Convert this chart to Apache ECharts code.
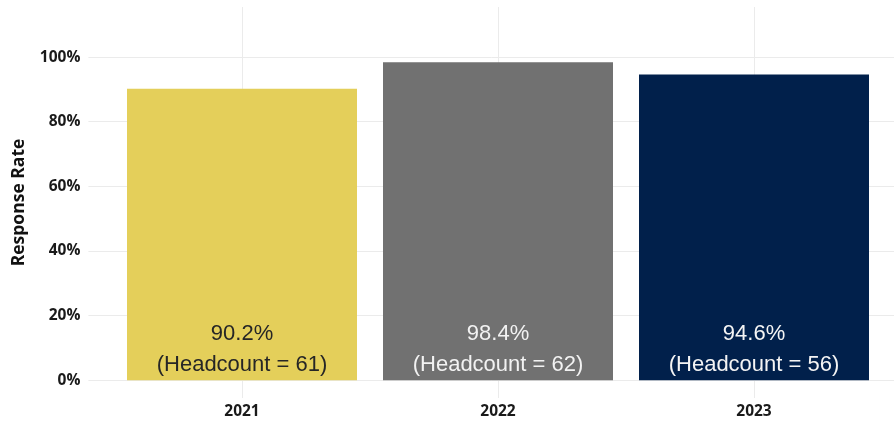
<!DOCTYPE html>
<html>
<head>
<meta charset="utf-8">
<script src="https://cdn.jsdelivr.net/npm/echarts@6/dist/echarts.min.js"></script>
<style>
  html, body { margin: 0; padding: 0; background: #ffffff; }
  #chart { width: 894px; height: 423px; }
</style>
</head>
<body>
<div id="chart"></div>
<script>
// Survey response rate by year
const years = ['2021', '2022', '2023'];
const responseRate = [90.2, 98.4, 94.6];
const headcount = [61, 62, 56];
const barColors = ['#E4CF5A', '#717171', '#01204B'];
const labelColors = ['#262626', '#f2f2f2', '#f4f4f4'];
const yTicks = [0, 20, 40, 60, 80, 100];

const chart = echarts.init(document.getElementById('chart'), null, { renderer: 'canvas' });

const axisFont = '"Open Sans", Lato, sans-serif';

chart.setOption({
  backgroundColor: '#ffffff',
  animation: false,
  grid: { left: 88.4, right: -13.6, top: 7, bottom: 25, outerBoundsMode: 'none', containLabel: false },
  xAxis: {
    type: 'value',
    min: -0.6,
    max: 2.6,
    axisLine: { show: false },
    axisTick: { show: false, customValues: years.map((_, i) => i) },
    axisLabel: {
      customValues: years.map((_, i) => i),
      formatter: v => years[Math.round(v)],
      color: '#1a1a1a',
      fontFamily: axisFont,
      fontWeight: 'bold',
      fontSize: 15.5,
      margin: 6
    },
    splitLine: { show: true, lineStyle: { color: '#ebebeb', width: 1 } }
  },
  yAxis: {
    type: 'value',
    min: -5.5,
    max: 115.5,
    name: 'Response Rate',
    nameLocation: 'middle',
    nameGap: 60,
    nameTextStyle: {
      color: '#111111',
      fontFamily: axisFont,
      fontWeight: 'bold',
      fontSize: 17.5
    },
    axisLine: { show: false },
    axisTick: { show: false, customValues: yTicks },
    axisLabel: {
      customValues: yTicks,
      formatter: v => v + '%',
      color: '#1a1a1a',
      fontFamily: axisFont,
      fontWeight: 'bold',
      fontSize: 15.5,
      margin: 8
    },
    splitLine: { show: true, lineStyle: { color: '#ebebeb', width: 1 } }
  },
  series: [{
    type: 'bar',
    barWidth: 230,
    data: responseRate.map((v, i) => ({
      value: [i, v],
      itemStyle: { color: barColors[i] },
      label: {
        show: true,
        position: 'insideBottom',
        distance: 0,
        color: labelColors[i],
        fontFamily: '"Liberation Sans", Arial, sans-serif',
        fontSize: 22,
        lineHeight: 31,
        formatter: () => v.toFixed(1) + '%\n(Headcount = ' + headcount[i] + ')'
      }
    }))
  }]
});
</script>
</body>
</html>
